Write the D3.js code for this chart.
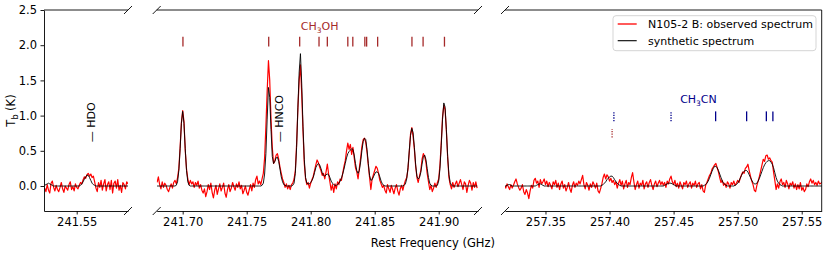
<!DOCTYPE html>
<html>
<head>
<meta charset="utf-8">
<script src="https://cdn.jsdelivr.net/npm/d3@7"></script>
<style>
  body { margin: 0; background: #fff; }
  text { font-family: "DejaVu Sans", sans-serif; }
</style>
</head>
<body>
<svg id="chart" width="830" height="257"></svg>
<script>
// channel grid of the spectra (GHz), 1 MHz channels
const chanStep = 0.001;

// --- window 1: HDO ---
const hdoStart = 241.525;
const hdoObs = [
  -0.03,-0.08,0.02,-0.06,-0.10,0.04,0.07,-0.02,-0.07,0.01,
  -0.05,-0.08,-0.02,0.05,-0.04,-0.09,0.00,-0.03,-0.06,0.02,
  0.06,-0.05,-0.01,-0.07,0.03,-0.02,-0.04,0.01,0.05,0.03,
  0.09,0.13,0.11,0.16,0.18,0.14,0.17,0.12,0.14,0.06,
  -0.03,-0.08,0.05,-0.02,0.08,-0.06,0.03,0.09,-0.07,0.02,
  0.06,-0.05,0.08,-0.10,0.04,0.07,-0.03,0.09,-0.06,0.01,
  -0.09,0.05,0.02,-0.04,0.06,0.03
];
const hdoSyn = [
  0.01,0.02,0.03,0.04,0.03,0.02,0.01,0,0,0,
  0,0,0,0,0,0,0,0,0,0,
  0,0,0,0,0,0,0,0,0.01,0.03,
  0.06,0.10,0.13,0.155,0.15,0.12,0.08,0.04,0.02,0.01,
  0,0,0,0,0,0,0,0,0,0,
  0,0,0,0,0,0,0,0,0,0,
  0,0,0,0,0,0
];

// --- window 2: CH3OH 5-4 band ---
const methStart = 241.680;
const methObs = [
  0.05,0.13,0.02,-0.04,0.06,-0.02,0.04,0.01,-0.05,-0.08,
  -0.02,0.03,-0.03,0.05,0.08,0.03,0.12,0.25,0.55,0.90,
  1.07,0.92,0.50,0.24,0.10,0.02,0.08,0.03,0.06,-0.02,
  0.05,0.01,0.07,-0.03,0.02,-0.06,-0.10,-0.04,-0.15,-0.08,
  0.02,-0.05,0.04,-0.09,-0.17,-0.06,0.01,-0.12,-0.04,0.03,
  -0.07,-0.02,0.04,-0.10,-0.16,-0.05,0.02,-0.08,-0.03,0.05,
  -0.01,-0.06,0.03,-0.02,0.06,-0.04,0.01,-0.11,-0.06,0.00,
  -0.09,-0.13,-0.05,0.02,-0.07,0.04,-0.02,0.09,0.14,0.03,
  0.07,0.02,0.10,0.18,0.40,0.85,1.35,1.78,1.50,0.95,
  0.55,0.32,0.36,0.44,0.46,0.38,0.27,0.18,0.10,0.05,
  -0.02,0.03,-0.04,0.01,-0.05,0.02,0.04,0.10,0.22,0.60,
  1.10,1.50,1.72,1.30,0.78,0.32,0.10,0.02,0.05,-0.03,
  0.04,0.09,0.14,0.22,0.30,0.37,0.33,0.27,0.22,0.15,
  0.18,0.10,0.20,0.31,0.17,0.06,-0.06,0.02,-0.09,0.03,
  -0.04,0.06,0.02,0.10,0.08,0.18,0.28,0.36,0.50,0.61,
  0.52,0.59,0.45,0.55,0.40,0.26,0.20,0.10,0.25,0.40,
  0.56,0.66,0.68,0.62,0.48,0.30,0.12,-0.05,0.10,0.16,
  0.22,0.28,0.25,0.18,0.08,0.03,-0.02,0.01,-0.06,-0.10,
  0.02,-0.04,-0.09,0.01,-0.05,-0.11,-0.03,0.02,-0.07,-0.13,
  -0.04,0.01,-0.06,0.02,0.08,0.12,0.24,0.48,0.74,0.83,
  0.70,0.52,0.28,0.12,0.05,0.14,0.22,0.38,0.46,0.42,
  0.34,0.18,0.06,-0.05,0.01,-0.08,-0.03,0.04,-0.02,0.05,
  0.10,0.30,0.62,0.98,1.15,1.08,0.78,0.40,0.12,0.02,
  -0.04,0.05,-0.02,0.03,0.07,-0.01,0.04,0.09,0.02,-0.05,
  0.06,0.03,-0.09,0.01,0.08,0.04,-0.06,0.05,-0.02,0.06,
  -0.03
];
const methSyn = [
  0,0,0,0,0,0,0,0,0,0,
  0,0,0,0,0,0.01,0.06,0.22,0.53,0.89,
  1.06,0.89,0.53,0.22,0.06,0.01,0,0,0,0,
  0,0,0,0,0,0,0,0,0,0,
  0,0,0,0,0,0,0,0,0,0,
  0,0,0,0,0,0,0,0,0,0,
  0,0,0,0,0,0,0,0,0,0,
  0,0,0,0,0,0,0,0,0,0,
  0,0,0.01,0.04,0.17,0.46,0.95,1.40,1.26,0.80,
  0.42,0.32,0.35,0.40,0.41,0.35,0.24,0.13,0.06,0.02,
  0.01,0,0,0,0,0,0.01,0.04,0.18,0.55,
  1.12,1.62,1.88,1.45,0.85,0.38,0.12,0.04,0.03,0.03,
  0.05,0.08,0.12,0.19,0.26,0.30,0.32,0.30,0.25,0.19,
  0.15,0.14,0.16,0.17,0.16,0.12,0.07,0.04,0.02,0.01,
  0.01,0.02,0.04,0.07,0.11,0.17,0.24,0.32,0.40,0.46,
  0.49,0.51,0.53,0.52,0.44,0.32,0.22,0.18,0.22,0.34,
  0.50,0.63,0.68,0.66,0.52,0.32,0.15,0.08,0.09,0.13,
  0.17,0.20,0.20,0.18,0.13,0.07,0.03,0.01,0,0,
  0,0,0,0,0,0,0,0,0,0,
  0,0,0,0.01,0.03,0.10,0.26,0.50,0.72,0.82,
  0.76,0.55,0.30,0.14,0.10,0.12,0.19,0.31,0.41,0.44,
  0.38,0.25,0.12,0.04,0.01,0,0,0,0,0.01,
  0.07,0.25,0.58,0.95,1.18,1.12,0.80,0.42,0.16,0.05,
  0.01,0,0,0,0,0,0,0,0,0,
  0,0,0,0,0,0,0,0,0,0,
  0
];

// --- window 3: CH3CN 14-13 ---
const cyanStart = 257.318;
const cyanObs = [
  0.01,-0.03,0.03,-0.01,-0.05,0.02,-0.03,0.01,0.06,0.10,
  0.03,-0.02,-0.06,-0.03,0.02,-0.08,-0.12,-0.05,-0.10,-0.18,
  -0.07,0.01,-0.03,0.08,0.11,0.04,0.07,-0.02,0.09,0.03,
  0.06,0.10,0.02,0.07,-0.01,0.05,0.01,-0.04,0.06,0.02,
  0.08,-0.02,0.04,-0.05,0.03,0.07,-0.03,0.02,-0.07,-0.02,
  0.05,-0.04,-0.09,0.01,0.06,-0.02,0.04,0.01,0.07,0.03,
  0.09,0.15,0.02,-0.04,0.05,0.01,-0.06,0.03,-0.02,0.06,
  0.02,-0.03,0.04,-0.07,-0.10,-0.04,0.03,0.12,0.17,0.10,
  0.16,0.13,0.07,0.11,0.05,0.08,0.02,0.06,-0.03,0.04,
  0.09,0.01,0.07,-0.04,0.03,0.08,-0.02,0.05,0.02,0.12,
  0.19,0.06,-0.05,0.02,0.07,-0.03,0.04,0.01,0.08,-0.04,
  0.03,0.06,-0.02,0.05,0.09,0.01,-0.05,0.03,0.07,-0.01,
  0.04,0.08,0.02,0.06,0.01,0.05,-0.02,0.07,0.03,0.10,
  0.14,0.06,0.02,0.08,-0.01,0.04,-0.03,0.06,0.01,-0.04,
  0.05,0.02,0.07,-0.02,0.03,0.06,-0.03,0.04,0.01,0.07,
  -0.02,0.03,0.05,-0.04,0.02,-0.07,-0.09,0.01,0.05,0.10,
  0.15,0.18,0.24,0.27,0.30,0.32,0.26,0.20,0.12,0.05,
  0.08,0.01,0.04,-0.02,0.06,0.03,-0.03,0.05,0.02,0.07,
  0.01,0.04,0.08,0.05,0.11,0.16,0.20,0.18,0.25,0.27,
  0.31,0.22,0.14,0.07,0.02,-0.06,-0.08,0.01,0.07,0.14,
  0.22,0.30,0.38,0.35,0.43,0.44,0.38,0.40,0.36,0.34,
  0.20,0.08,-0.05,0.03,-0.03,0.06,0.10,0.02,0.05,-0.02,
  0.08,0.03,-0.04,0.04,0.01,0.06,-0.03,0.03,-0.05,0.02,
  -0.04,0.05,-0.06,-0.02,-0.08,-0.05,0.03,-0.01,0.06,0.10,
  0.04,0.08,0.02,0.05,0.01,0.07,0.03,0.04,0.06
];
const cyanSyn = [
  0,0,0.01,0.02,0.02,0.01,0,0,0,0,
  0,0,0,0,0,0,0,0,0,0,
  0,0,0,0,0,0.01,0.02,0.03,0.03,0.02,
  0.01,0,0,0,0,0,0,0,0,0,
  0,0,0,0,0,0,0,0,0,0,
  0,0,0,0,0,0,0,0,0,0,
  0,0,0,0,0,0,0,0,0,0,
  0,0,0,0,0,0,0.01,0.02,0.04,0.06,
  0.09,0.11,0.13,0.14,0.14,0.12,0.09,0.06,0.04,0.02,
  0.01,0,0,0,0,0,0,0,0,0,
  0,0,0,0,0,0,0,0,0,0,
  0,0,0,0,0,0,0,0,0,0,
  0,0,0,0,0,0.01,0.02,0.03,0.04,0.04,
  0.04,0.03,0.02,0.01,0,0,0,0,0,0,
  0,0,0,0,0,0,0,0,0,0,
  0,0,0,0,0,0,0.01,0.02,0.04,0.07,
  0.11,0.16,0.21,0.25,0.28,0.28,0.26,0.22,0.17,0.12,
  0.07,0.04,0.02,0.01,0,0,0,0,0,0,
  0.01,0.02,0.04,0.07,0.11,0.15,0.19,0.21,0.22,0.22,
  0.20,0.16,0.12,0.08,0.05,0.03,0.03,0.04,0.07,0.11,
  0.16,0.21,0.26,0.30,0.33,0.35,0.36,0.36,0.34,0.31,
  0.26,0.19,0.12,0.07,0.04,0.02,0.01,0,0,0,
  0,0,0,0,0,0,0,0,0,0,
  0,0,0,0,0,0,0,0,0,0,
  0,0,0,0,0,0,0,0,0
];

// axis ticks
const hdoTicks = [241.55];
const methTicks = [241.70, 241.75, 241.80, 241.85, 241.90];
const cyanTicks = [257.35, 257.40, 257.45, 257.50, 257.55];
const yTicks = [0.0, 0.5, 1.0, 1.5, 2.0, 2.5];

// line identifications (GHz)
const ch3ohLines = [241.7002, 241.7672, 241.7914, 241.8065, 241.8130, 241.8290, 241.8329,
                    241.8423, 241.8437, 241.8523, 241.8791, 241.8878, 241.9045];
const ch3cnLines = [257.4828, 257.5070, 257.5224, 257.5275];
const ch3cnDotted = [257.4034, 257.4480];
const ch3ohDotted = [257.4020];
const singleLines = [
  {f: 241.5616, label: "HDO"},
  {f: 241.7750, label: "HNCO"}
];

const legendItems = [
  {label: "N105-2 B: observed spectrum", color: "#ff0000", width: 1.1},
  {label: "synthetic spectrum", color: "#000000", width: 0.9}
];

// ---------------------------------------------------------------
const svg = d3.select("#chart");
const yTop = 10, yBottom = 211;
const y = d3.scaleLinear().domain([-0.355, 2.5]).range([yBottom, yTop]);

const panels = [
  {domain: [241.5245, 241.590], range: [44, 128], ticks: hdoTicks,
   start: hdoStart, obs: hdoObs, syn: hdoSyn},
  {domain: [241.6797, 241.9307], range: [156.7, 478], ticks: methTicks,
   start: methStart, obs: methObs, syn: methSyn},
  {domain: [257.3184, 257.5656], range: [505, 821.7], ticks: cyanTicks,
   start: cyanStart, obs: cyanObs, syn: cyanSyn}
];

const brown = "#a52a2a";
const navy = "#00008b";

panels.forEach((p, k) => {
  const x = d3.scaleLinear().domain(p.domain).range(p.range);
  p.x = x;
  const g = svg.append("g");

  const clipId = "clip" + k;
  svg.append("clipPath").attr("id", clipId)
    .append("rect")
    .attr("x", p.range[0]).attr("y", yTop)
    .attr("width", p.range[1] - p.range[0]).attr("height", yBottom - yTop);

  const toPts = vals => vals.map((t, i) => ({f: p.start + i * chanStep, t: t}));
  const line = d3.line().x(d => x(d.f)).y(d => y(d.t));

  const plot = g.append("g").attr("clip-path", `url(#${clipId})`);
  plot.append("path")
    .datum(toPts(p.obs))
    .attr("fill", "none")
    .attr("stroke", "#ff0000")
    .attr("stroke-width", 1.2)
    .attr("stroke-linejoin", "round")
    .attr("d", line);
  plot.append("path")
    .datum(toPts(p.syn))
    .attr("fill", "none")
    .attr("stroke", "#000")
    .attr("stroke-width", 0.9)
    .attr("d", line);

  // bottom axis (its domain line is the bottom spine)
  const ax = g.append("g")
    .attr("transform", `translate(0,${yBottom})`)
    .call(d3.axisBottom(x).tickValues(p.ticks).tickFormat(d3.format(".2f"))
      .tickSize(3.5).tickPadding(3.5).tickSizeOuter(0));
  ax.attr("font-size", 11.5).attr("font-family", "DejaVu Sans");
  ax.selectAll("path,line").attr("stroke", "#000").attr("stroke-width", 0.9);
  ax.selectAll("text").attr("fill", "#000");

  // top spine
  g.append("line")
    .attr("x1", p.range[0]).attr("x2", p.range[1])
    .attr("y1", yTop).attr("y2", yTop)
    .attr("stroke", "#000").attr("stroke-width", 0.9);

  // break marks on the inner edges
  const edges = [];
  if (k > 0) edges.push(p.range[0]);
  if (k < panels.length - 1) edges.push(p.range[1]);
  edges.forEach(ex => {
    [yTop, yBottom].forEach(ey => {
      g.append("line")
        .attr("x1", ex - 4).attr("y1", ey + 4)
        .attr("x2", ex + 4).attr("y2", ey - 4)
        .attr("stroke", "#000").attr("stroke-width", 0.9);
    });
  });
});

// left axis on the first window
const yAx = svg.append("g")
  .attr("transform", `translate(${panels[0].range[0]},0)`)
  .call(d3.axisLeft(y).tickValues(yTicks).tickFormat(d3.format(".1f"))
    .tickSize(3.5).tickPadding(3.5).tickSizeOuter(0));
yAx.attr("font-size", 11.5).attr("font-family", "DejaVu Sans");
yAx.selectAll("path,line").attr("stroke", "#000").attr("stroke-width", 0.9);
yAx.selectAll("text").attr("fill", "#000");

// right spine on the last window
svg.append("line")
  .attr("x1", panels[2].range[1]).attr("x2", panels[2].range[1])
  .attr("y1", yTop).attr("y2", yBottom)
  .attr("stroke", "#000").attr("stroke-width", 0.9);

// y label
const yl = svg.append("text")
  .attr("transform", `translate(15,${(yTop + yBottom) / 2}) rotate(-90)`)
  .attr("text-anchor", "middle")
  .attr("font-size", 11.5);
yl.append("tspan").text("T");
yl.append("tspan").attr("font-size", 8).attr("dy", 3).text("b");
yl.append("tspan").attr("dy", -3).text(" (K)");

// x label
svg.append("text")
  .attr("x", (panels[0].range[0] + panels[2].range[1]) / 2)
  .attr("y", 246.5)
  .attr("text-anchor", "middle")
  .attr("font-size", 11.5)
  .text("Rest Frequency (GHz)");

// CH3OH markers
const xm = panels[1].x, xc = panels[2].x;
svg.append("g").selectAll("line").data(ch3ohLines).join("line")
  .attr("x1", d => xm(d)).attr("x2", d => xm(d))
  .attr("y1", y(1.98)).attr("y2", y(2.12))
  .attr("stroke", brown).attr("stroke-width", 1.3);
const ml = svg.append("text")
  .attr("x", xm(241.807)).attr("y", 30)
  .attr("text-anchor", "middle").attr("font-size", 11).attr("fill", brown);
ml.append("tspan").text("CH");
ml.append("tspan").attr("font-size", 7.5).attr("dy", 3).text("3");
ml.append("tspan").attr("dy", -3).text("OH");

// CH3CN markers
svg.append("g").selectAll("line").data(ch3cnLines).join("line")
  .attr("x1", d => xc(d)).attr("x2", d => xc(d))
  .attr("y1", y(0.92)).attr("y2", y(1.06))
  .attr("stroke", navy).attr("stroke-width", 1.3);
svg.append("g").selectAll("line").data(ch3cnDotted).join("line")
  .attr("x1", d => xc(d)).attr("x2", d => xc(d))
  .attr("y1", y(0.92)).attr("y2", y(1.06))
  .attr("stroke", navy).attr("stroke-width", 1.3)
  .attr("stroke-dasharray", "1.3,1.3");
svg.append("g").selectAll("line").data(ch3ohDotted).join("line")
  .attr("x1", d => xc(d)).attr("x2", d => xc(d))
  .attr("y1", y(0.69)).attr("y2", y(0.81))
  .attr("stroke", brown).attr("stroke-width", 1.3)
  .attr("stroke-dasharray", "1.3,1.3");
const cl = svg.append("text")
  .attr("x", xc(257.4694)).attr("y", 103)
  .attr("text-anchor", "middle").attr("font-size", 11).attr("fill", navy);
cl.append("tspan").text("CH");
cl.append("tspan").attr("font-size", 7.5).attr("dy", 3).text("3");
cl.append("tspan").attr("dy", -3).text("CN");

// HDO / HNCO labels (rotated)
singleLines.forEach(s => {
  const px = (s.f < 241.6 ? panels[0].x : xm)(s.f);
  svg.append("text")
    .attr("transform", `translate(${px},${y(0.62)}) rotate(-90)`)
    .attr("dy", "0.35em")
    .attr("font-size", 11)
    .text("\u2014 " + s.label);
});

// legend
const lg = svg.append("g").attr("transform", "translate(613,15.7)");
lg.append("rect")
  .attr("width", 203).attr("height", 35).attr("rx", 3)
  .attr("fill", "#fff").attr("fill-opacity", 0.8)
  .attr("stroke", "#d0d0d0").attr("stroke-width", 0.9);
legendItems.forEach((d, i) => {
  const ly = 8.3 + i * 16.7;
  lg.append("line")
    .attr("x1", 4.7).attr("x2", 23.7).attr("y1", ly).attr("y2", ly)
    .attr("stroke", d.color).attr("stroke-width", d.width + 0.2);
  lg.append("text")
    .attr("x", 35).attr("y", ly).attr("dy", "0.35em")
    .attr("font-size", 11)
    .text(d.label);
});
</script>
</body>
</html>
